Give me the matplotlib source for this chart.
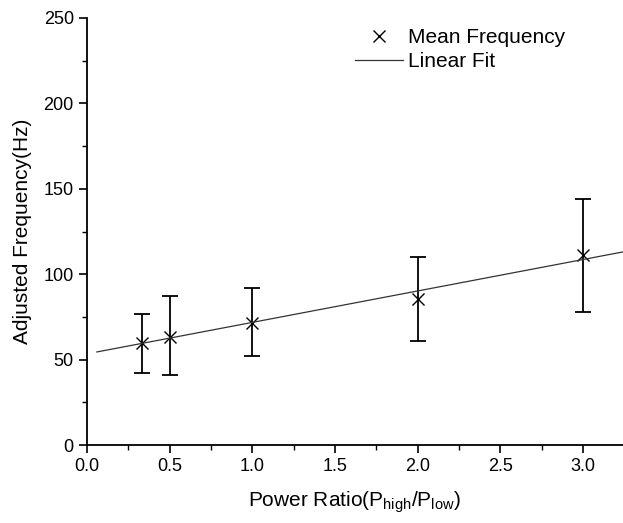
import numpy as np
import matplotlib
matplotlib.use("Agg")
import matplotlib.pyplot as plt
from matplotlib.ticker import MultipleLocator

plt.rcParams['font.family'] = ['Liberation Sans Narrow', 'Liberation Sans', 'DejaVu Sans']

power_ratio = [1/3, 0.5, 1.0, 2.0, 3.0]
mean_freq = [59.5, 63.5, 71.5, 85.5, 111.0]
err_low = [42, 41, 52, 61, 78]
err_high = [77, 87, 92, 110, 144]
fit_intercept = 53.4
fit_slope = 18.4
fit_range = [0.06, 3.3]

fig = plt.figure(figsize=(6.23, 5.23), dpi=100)
ax = fig.add_axes([0.1396, 0.149, 0.8604, 0.8166])

x = np.array(power_ratio)
y = np.array(mean_freq)
yerr = np.vstack([y - np.array(err_low), np.array(err_high) - y])
ax.errorbar(x, y, yerr=yerr, fmt='none', ecolor='black', elinewidth=1.3,
            capsize=6, capthick=1.3)
ax.plot(x, y, linestyle='none', marker='x', color='black', markersize=8,
        markeredgewidth=1.0, label='Mean Frequency')
xf = np.array(fit_range)
ax.plot(xf, fit_intercept + fit_slope * xf, color='#333333', linewidth=0.9,
        label='Linear Fit')

ax.set_xlim(0, 3.243)
ax.set_ylim(0, 250)
ax.xaxis.set_major_locator(MultipleLocator(0.5))
ax.xaxis.set_minor_locator(MultipleLocator(0.25))
ax.yaxis.set_major_locator(MultipleLocator(50))
ax.yaxis.set_minor_locator(MultipleLocator(25))
ax.xaxis.set_major_formatter(matplotlib.ticker.FormatStrFormatter('%.1f'))
ax.spines['top'].set_visible(False)
ax.spines['right'].set_visible(False)
ax.spines['left'].set_linewidth(1.3)
ax.spines['bottom'].set_linewidth(1.3)
ax.tick_params(which='major', direction='out', length=6, width=1.2, labelsize=13)
ax.tick_params(which='minor', direction='out', length=3.5, width=1.0)

ax.set_xlabel('Power Ratio(P$_{\\mathregular{high}}$/P$_{\\mathregular{low}}$)', fontsize=15, labelpad=10)
ax.set_ylabel('Adjusted Frequency(Hz)', fontsize=15, labelpad=8)

ax.legend(loc='upper left', bbox_to_anchor=(0.465, 1.02), frameon=False,
          fontsize=15, handlelength=2.3, handletextpad=0.25, labelspacing=0.25)

fig.savefig('out.png', dpi=100)
